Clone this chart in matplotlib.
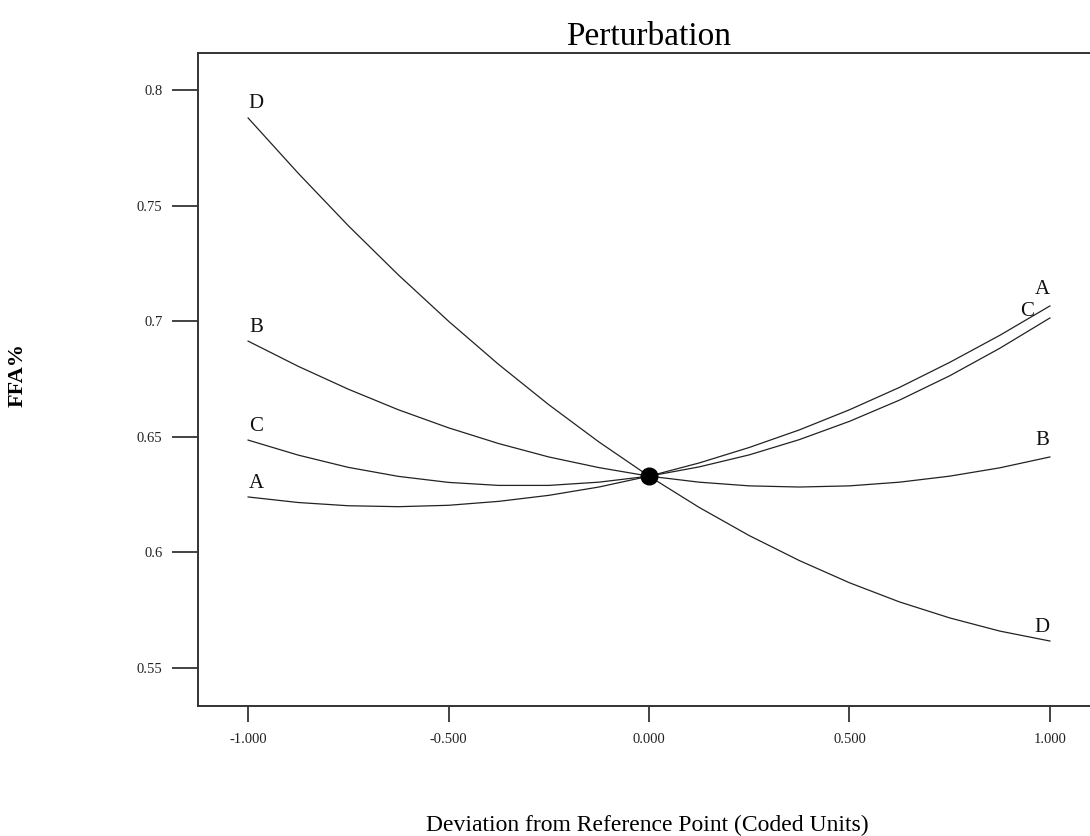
import numpy as np
import matplotlib
matplotlib.use("Agg")
import matplotlib.pyplot as plt

plt.rcParams['font.family'] = ['Liberation Serif', 'DejaVu Serif']

# deviation from reference point (coded units)
dev = [-1.0, -0.875, -0.75, -0.625, -0.5, -0.375, -0.25, -0.125, 0.0,
       0.125, 0.25, 0.375, 0.5, 0.625, 0.75, 0.875, 1.0]

# FFA%
ffa_A = [0.6240, 0.6216, 0.6202, 0.6198, 0.6204, 0.6221, 0.6247, 0.6283, 0.6330,
         0.6387, 0.6454, 0.6530, 0.6617, 0.6714, 0.6822, 0.6939, 0.7066]
ffa_B = [0.6914, 0.6805, 0.6706, 0.6617, 0.6539, 0.6471, 0.6413, 0.6367, 0.6330,
         0.6304, 0.6288, 0.6283, 0.6288, 0.6304, 0.6330, 0.6366, 0.6413]
ffa_C = [0.6486, 0.6421, 0.6368, 0.6329, 0.6303, 0.6290, 0.6290, 0.6304, 0.6330,
         0.6370, 0.6422, 0.6488, 0.6567, 0.6659, 0.6764, 0.6883, 0.7014]
ffa_D = [0.7879, 0.7640, 0.7413, 0.7200, 0.7000, 0.6813, 0.6639, 0.6478, 0.6330,
         0.6195, 0.6073, 0.5965, 0.5869, 0.5786, 0.5717, 0.5660, 0.5617]

factors = ['A', 'B', 'C', 'D']
series = [ffa_A, ffa_B, ffa_C, ffa_D]

x_ticks = [-1.0, -0.5, 0.0, 0.5, 1.0]
y_ticks = [0.55, 0.6, 0.65, 0.7, 0.75, 0.8]

# label offsets in pixels (left end, right end)
left_off = {'A': (8, 13), 'B': (8, 14), 'C': (8, 14), 'D': (8, 14)}
right_off = {'A': (-8, 16), 'B': (-8, 16), 'C': (-23, 6), 'D': (-8, 14)}

line_col = '#222222'

fig = plt.figure(figsize=(10.9, 8.36), dpi=100)
ax = fig.add_axes([198 / 1090, 1 - 706 / 836, 902 / 1090, 653 / 836])

for name, vals in zip(factors, series):
    ax.plot(dev, vals, color=line_col, lw=0.9)
    ax.annotate(name, (dev[0], vals[0]), xytext=left_off[name],
                textcoords='offset pixels', ha='center', va='center',
                fontsize=15, color='#111111')
    ax.annotate(name, (dev[-1], vals[-1]), xytext=right_off[name],
                textcoords='offset pixels', ha='center', va='center',
                fontsize=15, color='#111111')

# reference point
ax.plot([dev[8]], [ffa_A[8]], 'o', color='black', markersize=12, zorder=5)

ax.set_xlim(-1.125, 1.125)
ax.set_ylim(0.5336, 0.816)
ax.set_xticks(x_ticks)
ax.set_xticklabels(['%.3f' % v for v in x_ticks])
ax.set_yticks(y_ticks)
ax.set_yticklabels(['%g' % v for v in y_ticks])

ax.tick_params(axis='x', direction='out', length=11.5, width=1.2,
               pad=8, labelsize=10.5, colors='#222222')
ax.tick_params(axis='y', direction='out', length=18.7, width=1.2,
               pad=7, labelsize=10.5, colors='#222222')
for s in ['left', 'bottom', 'top']:
    ax.spines[s].set_linewidth(1.4)
    ax.spines[s].set_color('#333333')
ax.spines['right'].set_visible(False)

ax.set_title('Perturbation', fontsize=24, pad=6)
ax.set_xlabel('Deviation from Reference Point (Coded Units)', fontsize=17)
ax.xaxis.set_label_coords(0.498, -0.167)
ax.set_ylabel('FFA%', fontsize=16, fontweight='bold', va='center')
ax.yaxis.set_label_coords(-0.2, 0.507)

fig.savefig('out.png', dpi=100)
